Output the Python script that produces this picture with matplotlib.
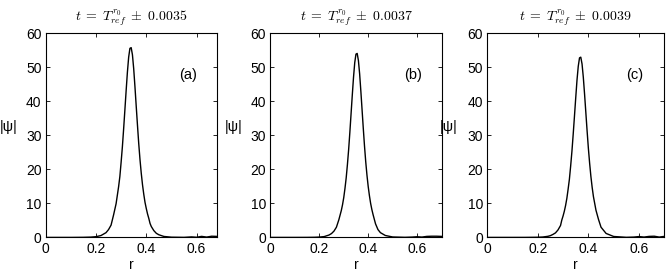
import matplotlib
matplotlib.use("Agg")
import matplotlib.pyplot as plt

plt.rcParams["font.family"] = ["Liberation Sans", "DejaVu Sans"]
plt.rcParams["mathtext.fontset"] = "cm"

# shared radial grid (r)
r = [0.0, 0.10, 0.15, 0.18, 0.20, 0.22, 0.24, 0.25, 0.26, 0.27, 0.28, 0.29,
     0.295, 0.30, 0.305, 0.31, 0.315, 0.32, 0.325, 0.33, 0.335, 0.34, 0.345,
     0.35, 0.355, 0.36, 0.365, 0.37, 0.375, 0.38, 0.385, 0.39, 0.395, 0.40,
     0.405, 0.41, 0.415, 0.42, 0.43, 0.44, 0.45, 0.47, 0.50, 0.55, 0.58,
     0.60, 0.62, 0.64, 0.66, 0.68, 0.70]

# |psi| for each panel
psi_a = [0, 0, 0.03, 0.09, 0.21, 0.55, 1.4, 2.3, 3.6, 6.6, 9.9, 14.9,
         17.9, 22.1, 26.6, 31.9, 37.5, 43.2, 48.6, 53.0, 55.6, 55.8, 53.7,
         49.6, 44.3, 38.6, 33.0, 27.6, 22.9, 18.9, 15.5, 12.7, 10.3, 8.5,
         6.9, 5.6, 4.1, 3.2, 2.0, 1.2, 0.78, 0.28, 0.07, 0.02, 0.15,
         0.05, 0.3, 0.1, 0.35, 0.3, 0.1]
psi_b = [0, 0, 0.01, 0.04, 0.10, 0.24, 0.71, 1.14, 1.85, 3.0, 5.2, 7.9,
         9.6, 11.7, 14.4, 17.5, 21.4, 25.8, 30.9, 36.4, 41.9, 47.1, 51.4,
         53.9, 54.1, 52.0, 48.1, 43.0, 37.5, 32.0, 26.8, 22.2, 18.3, 15.0,
         12.3, 10.0, 8.2, 6.7, 4.0, 2.3, 1.4, 0.57, 0.13, 0.03, 0.1,
         0.2, 0.1, 0.3, 0.35, 0.35, 0.3]
psi_c = [0, 0, 0.005, 0.03, 0.05, 0.12, 0.32, 0.52, 0.88, 1.33, 2.2, 3.5,
         5.1, 6.3, 7.7, 9.4, 11.5, 14.2, 17.1, 21.0, 25.3, 30.3, 35.6,
         41.0, 46.2, 50.3, 52.8, 53.0, 51.0, 47.1, 42.1, 36.7, 31.3, 26.2,
         21.8, 17.9, 14.7, 12.0, 8.0, 5.3, 3.0, 1.17, 0.27, 0.03, 0.1,
         0.25, 0.1, 0.3, 0.35, 0.1, 0.3]

titles = [r"$t\;=\;T_{ref}^{r_0}\;\pm\;0.0035$",
          r"$t\;=\;T_{ref}^{r_0}\;\pm\;0.0037$",
          r"$t\;=\;T_{ref}^{r_0}\;\pm\;0.0039$"]
tags = ["(a)", "(b)", "(c)"]
xmax = [0.68, 0.70, 0.70]

fig = plt.figure(figsize=(6.71, 2.78), dpi=100)
boxes = [[0.068, 0.146, 0.255, 0.734],
         [0.403, 0.146, 0.255, 0.734],
         [0.726, 0.146, 0.264, 0.734]]

for i, psi in enumerate([psi_a, psi_b, psi_c]):
    ax = fig.add_axes(boxes[i])
    ax.plot(r, psi, color="black", lw=1.0)
    ax.set_xlim(0, xmax[i])
    ax.set_ylim(0, 60)
    ax.set_xticks([0, 0.2, 0.4, 0.6])
    ax.set_xticklabels(["0", "0.2", "0.4", "0.6"])
    ax.set_yticks([0, 10, 20, 30, 40, 50, 60])
    ax.tick_params(direction="in", length=3, width=0.6, top=True, right=True,
                   labelsize=10, pad=3)
    for s in ax.spines.values():
        s.set_linewidth(0.8)
    ax.set_title(titles[i], fontsize=10, pad=9)
    ax.set_xlabel("r", fontsize=10, labelpad=2)
    ax.set_ylabel("|ψ|", fontsize=10.5, rotation=0, va="center", ha="center")
    ax.yaxis.set_label_coords(-0.215, 0.54)
    ax.text(0.835, 0.795, tags[i], transform=ax.transAxes, fontsize=10.5,
            ha="center", va="center")

fig.savefig("out.png", dpi=100)
